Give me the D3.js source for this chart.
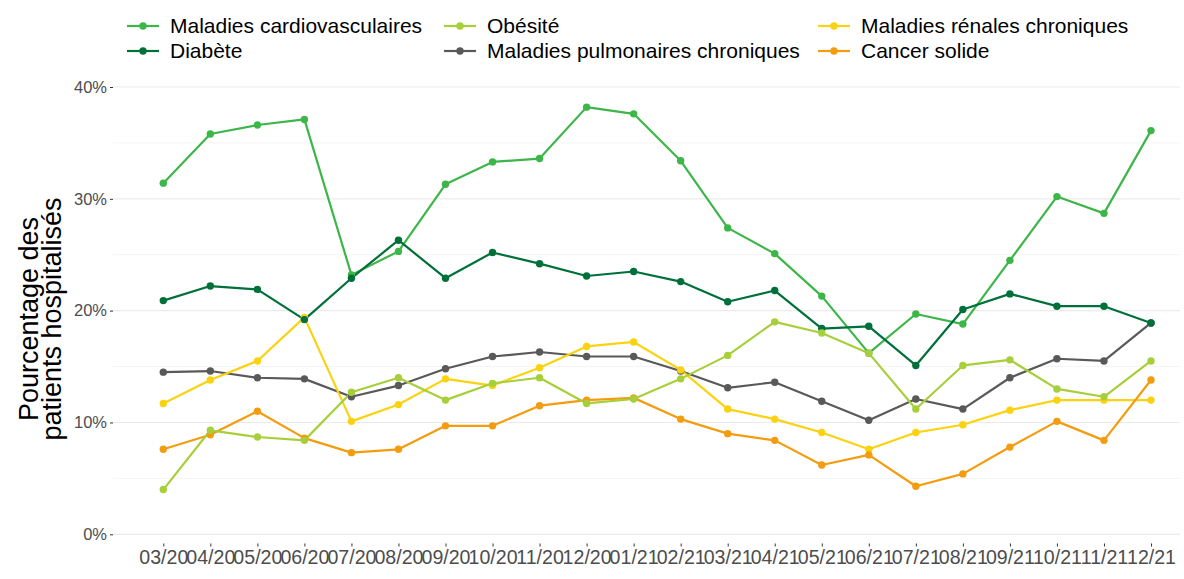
<!DOCTYPE html>
<html>
<head>
<meta charset="utf-8">
<script src="https://cdn.jsdelivr.net/npm/d3@7"></script>
<style>
  html, body { margin: 0; padding: 0; background: #ffffff; }
  svg { display: block; font-family: "Liberation Sans", Arial, sans-serif; }
</style>
</head>
<body>
<svg id="chart" width="1184" height="579"></svg>
<script>
// Months (x categories)
const months = ["03/20","04/20","05/20","06/20","07/20","08/20","09/20","10/20","11/20","12/20",
                "01/21","02/21","03/21","04/21","05/21","06/21","07/21","08/21","09/21","10/21","11/21","12/21"];

// Share of hospitalised patients with each comorbidity (%)
const cardio      = [31.4,35.8,36.6,37.1,23.2,25.3,31.3,33.3,33.6,38.2,37.6,33.4,27.4,25.1,21.3,16.2,19.7,18.8,24.5,30.2,28.7,36.1];
const diabete     = [20.9,22.2,21.9,19.2,22.9,26.3,22.9,25.2,24.2,23.1,23.5,22.6,20.8,21.8,18.4,18.6,15.1,20.1,21.5,20.4,20.4,18.9];
const obesite     = [4.0,9.3,8.7,8.4,12.7,14.0,12.0,13.5,14.0,11.7,12.1,13.9,16.0,19.0,18.0,16.2,11.2,15.1,15.6,13.0,12.3,15.5];
const pulmonaires = [14.5,14.6,14.0,13.9,12.3,13.3,14.8,15.9,16.3,15.9,15.9,14.6,13.1,13.6,11.9,10.2,12.1,11.2,14.0,15.7,15.5,18.9];
const renales     = [11.7,13.8,15.5,19.4,10.1,11.6,13.9,13.3,14.9,16.8,17.2,14.7,11.2,10.3,9.1,7.6,9.1,9.8,11.1,12.0,12.0,12.0];
const cancer      = [7.6,8.9,11.0,8.6,7.3,7.6,9.7,9.7,11.5,12.0,12.2,10.3,9.0,8.4,6.2,7.1,4.3,5.4,7.8,10.1,8.4,13.8];

// Series names (legend order) and colours
const seriesNames  = ["Maladies cardiovasculaires","Diabète","Obésité","Maladies pulmonaires chroniques","Maladies rénales chroniques","Cancer solide"];
const seriesValues = [cardio, diabete, obesite, pulmonaires, renales, cancer];
const seriesColors = ["#3db649","#00703b","#a7cf3a","#595959","#fbd20f","#f39c0f"];

// Y axis ticks
const yTicks = [0, 10, 20, 30, 40];
const yMinor = [5, 15, 25, 35];

const svg = d3.select("#chart");

const panel = { left: 113, right: 1180, top: 64.6, bottom: 543.5 };

const x = d3.scalePoint().domain(months).range([163.3, 1151]);
const y = d3.scaleLinear().domain([0, 40]).range([534.3, 87]);

// Grid
const grid = svg.append("g");
grid.selectAll("line.minor").data(yMinor).join("line")
  .attr("x1", panel.left).attr("x2", panel.right)
  .attr("y1", d => y(d)).attr("y2", d => y(d))
  .attr("stroke", "#f4f4f4").attr("stroke-width", 1);
grid.selectAll("line.major").data(yTicks).join("line")
  .attr("x1", panel.left).attr("x2", panel.right)
  .attr("y1", d => y(d)).attr("y2", d => y(d))
  .attr("stroke", "#ebebeb").attr("stroke-width", 1.2);

// Y axis
const yAxis = svg.append("g")
  .attr("transform", `translate(${panel.left},0)`)
  .call(d3.axisLeft(y).tickValues(yTicks).tickFormat(d => d + "%").tickSize(3).tickPadding(3));
yAxis.select(".domain").remove();
yAxis.selectAll(".tick line").attr("stroke", "#333333");
yAxis.selectAll(".tick text").attr("fill", "#4d4d4d").style("font-size", "16.5px")
  .style("font-family", "'Liberation Sans', Arial, sans-serif");

// X axis
const xAxis = svg.append("g")
  .attr("transform", `translate(0,${panel.bottom})`)
  .call(d3.axisBottom(x).tickSize(3).tickPadding(3.5));
xAxis.select(".domain").remove();
xAxis.selectAll(".tick line").attr("stroke", "#333333");
xAxis.selectAll(".tick text").attr("fill", "#4d4d4d").style("font-size", "19.6px")
  .style("font-family", "'Liberation Sans', Arial, sans-serif");

// Y title (two lines)
const yTitle = svg.append("text")
  .attr("transform", "translate(38,319) rotate(-90)")
  .attr("text-anchor", "middle")
  .attr("fill", "#000000")
  .style("font-size", "27px");
yTitle.append("tspan").attr("x", 0).attr("dy", 0).text("Pourcentage des");
yTitle.append("tspan").attr("x", 0).attr("dy", 22.5).text("patients hospitalisés");

// Series: lines, then points; drawing order keeps darker marks above
const drawOrder = [0, 3, 4, 5, 1, 2];
const line = d3.line().x((d, i) => x(months[i])).y(d => y(d));

const lines = svg.append("g");
drawOrder.forEach(k => {
  lines.append("path")
    .datum(seriesValues[k])
    .attr("d", line)
    .attr("fill", "none")
    .attr("stroke", seriesColors[k])
    .attr("stroke-width", 2.2)
    .attr("stroke-linejoin", "round");
});
const pts = svg.append("g");
drawOrder.forEach(k => {
  pts.append("g").selectAll("circle")
    .data(seriesValues[k])
    .join("circle")
    .attr("cx", (d, i) => x(months[i]))
    .attr("cy", d => y(d))
    .attr("r", 3.7)
    .attr("fill", seriesColors[k]);
});

// Legend: three columns, two rows (filled column by column)
const legendCols = [127, 444, 818];
const legendRows = [26, 51];
const legend = svg.append("g");
seriesNames.forEach((name, k) => {
  const col = Math.floor(k / 2), row = k % 2;
  const g = legend.append("g").attr("transform", `translate(${legendCols[col]},${legendRows[row]})`);
  g.append("line").attr("x1", 0).attr("x2", 32).attr("y1", 0).attr("y2", 0)
    .attr("stroke", seriesColors[k]).attr("stroke-width", 2.2);
  g.append("circle").attr("cx", 16).attr("cy", 0).attr("r", 3.7).attr("fill", seriesColors[k]);
  g.append("text").attr("x", 43).attr("y", 0).attr("dy", "0.35em")
    .attr("fill", "#000000").style("font-size", "21px").text(name);
});
</script>
</body>
</html>
